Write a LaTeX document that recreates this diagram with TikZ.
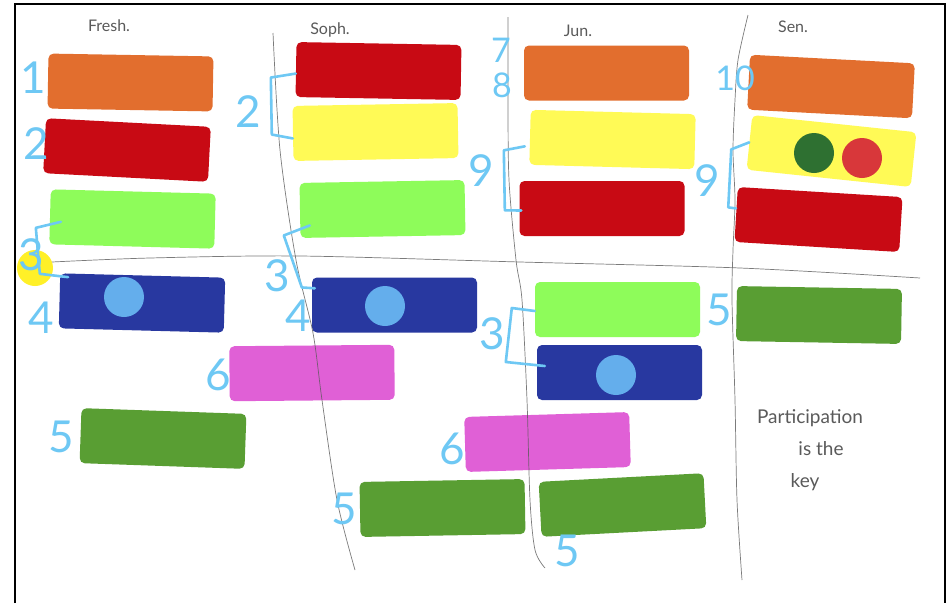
\documentclass[tikz,border=0pt]{standalone}
\usepackage{fontspec}
\newfontfamily\handfont{Lato}
\usetikzlibrary{calc}
\definecolor{stOrange}{RGB}{226,110,46}
\definecolor{stRed}{RGB}{200,10,20}
\definecolor{stYellow}{RGB}{255,250,86}
\definecolor{stLime}{RGB}{142,252,90}
\definecolor{stBlue}{RGB}{40,56,160}
\definecolor{stPink}{RGB}{224,96,214}
\definecolor{stGreen}{RGB}{89,158,51}
\definecolor{dotSky}{RGB}{100,174,236}
\definecolor{dotGreen}{RGB}{46,112,49}
\definecolor{dotRed}{RGB}{216,55,58}
\definecolor{dotYellow}{RGB}{255,240,40}
\definecolor{penBlue}{RGB}{110,200,244}
\definecolor{pencil}{RGB}{90,90,90}

\tikzset{
  sticker/.style={rectangle, rounded corners=5pt, minimum width=165pt, minimum height=55pt, inner sep=0pt},
  dot/.style={circle, minimum size=40pt, inner sep=0pt},
  digit/.style={text=penBlue, font=\handfont\fontsize{44}{44}\selectfont, inner sep=0pt},
  smalldigit/.style={digit, font=\handfont\fontsize{34}{34}\selectfont},
  bracket/.style={draw=penBlue, line width=2.6pt, line join=round, line cap=round},
  scrawl/.style={text=pencil, font=\handfont\fontsize{16}{16}\selectfont, inner sep=0pt},
  pencilline/.style={draw=pencil, line width=0.7pt, opacity=0.8}
}

\begin{document}
\begin{tikzpicture}[x=1pt, y=-1pt]
\useasboundingbox (0,0) rectangle (951,603);
\fill[white] (0,0) rectangle (951,603);

% fresh.
\node[sticker, fill=stOrange, rotate=-1] (fO) at (130.5,82.5) {};
\node[sticker, fill=stRed, rotate=-3] (fR) at (127,150) {};
\node[sticker, fill=stLime, rotate=-1.5] (fG) at (132.5,219) {};
\node[sticker, fill=stBlue, rotate=-1.5] (fB) at (142,303) {};
\node[sticker, fill=stGreen, rotate=-2] (fD) at (163,438.5) {};
\node[dot, fill=dotSky] (fBdot) at (124,297) {};

% soph.
\node[sticker, fill=stRed, rotate=-1] (sR) at (378.5,71) {};
\node[sticker, fill=stYellow, rotate=1] (sY) at (375.5,132) {};
\node[sticker, fill=stLime, rotate=1] (sG) at (382.5,209) {};
\node[sticker, fill=stBlue] (sB) at (394.5,305) {};
\node[sticker, fill=stPink, rotate=0.5] (sP) at (312,373) {};
\node[sticker, fill=stGreen, rotate=1] (sD) at (442.5,508) {};
\node[dot, fill=dotSky] (sBdot) at (385,306) {};

% jun.
\node[sticker, fill=stOrange] (jO) at (606.5,73) {};
\node[sticker, fill=stYellow, rotate=-1.5] (jY) at (612.5,139.5) {};
\node[sticker, fill=stRed] (jR) at (602,208.5) {};
\node[sticker, fill=stLime] (jG) at (617.5,309.5) {};
\node[sticker, fill=stBlue] (jB) at (619.5,372.5) {};
\node[sticker, fill=stPink, rotate=1.7] (jP) at (547.5,442) {};
\node[sticker, fill=stGreen, rotate=3] (jD) at (622.5,505) {};
\node[dot, fill=dotSky] (jBdot) at (616,375) {};

% sen.
\node[sticker, fill=stOrange, rotate=-3] (nO) at (831,86.5) {};
\node[sticker, fill=stYellow, rotate=-6] (nY) at (831.5,151) {};
\node[sticker, fill=stRed, rotate=-3.5] (nR) at (818.5,219.5) {};
\node[sticker, fill=stGreen, rotate=-1] (nD) at (819,315) {};
\node[dot, fill=dotGreen] (nYdotA) at (814,153) {};
\node[dot, fill=dotRed] (nYdotB) at (862,158) {};

\node[dot, fill=dotYellow, minimum size=36pt] (ydot) at (35,268) {};

% pencil lines
\draw[pencilline] plot[smooth] coordinates {(273,33) (280,150) (296,260) (313,333) (322,400) (337,500) (355,570)};
\draw[pencilline] plot[smooth] coordinates {(508,17) (508,100) (509,180) (516,260) (522,300) (527,400) (530,500) (535,550) (545,568)};
\draw[pencilline] plot[smooth] coordinates {(748,15) (738,60) (735,100) (733,150) (735,200) (733,250) (732,300) (735,400) (737,500) (742,580)};
\draw[pencilline] plot[smooth] coordinates {(52,262) (150,258) (300,256) (520,262) (740,268) (920,278)};

% headings
\node[scrawl] (hFresh) at (109,26) {Fresh.};
\node[scrawl] (hSoph) at (330,30) {Soph.};
\node[scrawl] (hJun) at (578,31) {Jun.};
\node[scrawl] (hSen) at (793,27) {Sen.};
\node[scrawl, align=center, font=\handfont\fontsize{19}{32}\selectfont] (note) at (810,450) {Participation\\\hspace*{22pt}is the\\\hspace*{-10pt}key};

% brackets
\draw[bracket] ([xshift=11pt,yshift=-5pt]fG.west) -- ++(-25,6) -- ++(4,46) -- ([xshift=8pt,yshift=-4pt]fB.north west);
\draw[bracket] ([yshift=-4pt]sR.west) -- ++(-25,4) -- ++(1,57) -- ([yshift=-5pt]sY.west);
\draw[bracket] ([xshift=10pt,yshift=-15pt]sG.west) -- ++(-26,10) -- ++(18,52) -- ([xshift=3pt,yshift=-11pt]sB.north west);
\draw[bracket] ([xshift=-5pt,yshift=-9pt]jY.west) -- ++(-21,4) -- ++(1,60) -- ([xshift=2pt,yshift=-2pt]jR.west);
\draw[bracket] ([yshift=-1.5pt]jG.west) -- ++(-23,-3) -- ++(-6,54) -- ([xshift=8pt,yshift=6.5pt]jB.west);
\draw[bracket] (nY.west) -- ++(-18,7) -- ++(-3,58) -- ([yshift=6pt]nR.west);

% numbers
\node[digit] (n1) at (33,78) {1};
\node[digit] (n2a) at (36,144) {2};
\node[digit] (n3a) at (31,255) {3};
\node[digit] (n4a) at (41,318) {4};
\node[digit] (n5a) at (61,437) {5};
\node[digit] (n6a) at (218,375) {6};
\node[digit] (n2b) at (248,112) {2};
\node[digit] (n3b) at (277,276) {3};
\node[digit] (n4b) at (298,316) {4};
\node[digit] (n5b) at (344,509) {5};
\node[smalldigit] (n7) at (501,50) {7};
\node[smalldigit] (n8) at (502,85) {8};
\node[digit] (n9a) at (481,171) {9};
\node[digit] (n3c) at (492,334) {3};
\node[digit] (n6b) at (452,449) {6};
\node[digit] (n5c) at (567,551) {5};
\node[smalldigit] (n10) at (735,78) {10};
\node[digit] (n9b) at (707,181) {9};
\node[digit] (n5d) at (719,310) {5};

% frame
\draw[line width=2pt] (15,603) -- (15,4) -- (945,4) -- (945,603);
\end{tikzpicture}
\end{document}
